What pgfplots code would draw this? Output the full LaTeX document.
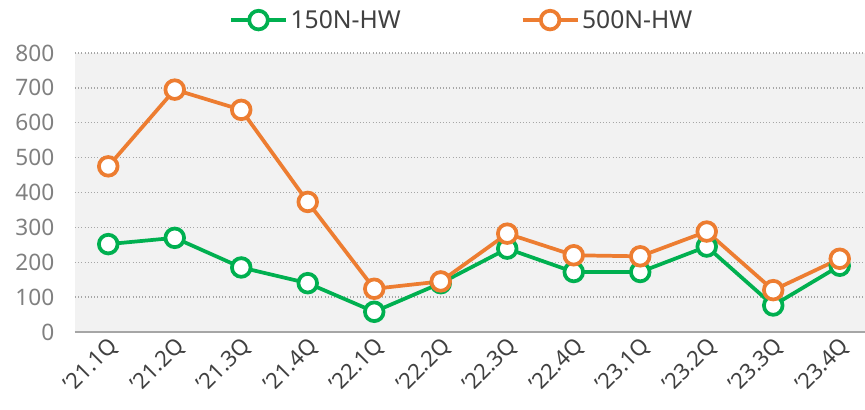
\documentclass[border=0pt]{standalone}
\usepackage{pgfplots}
\pgfplotsset{compat=1.18}
\usepackage{fontspec}
\setmainfont{Noto Sans}
\definecolor{cgreen}{HTML}{00B050}
\definecolor{corange}{HTML}{ED7D31}
\definecolor{bg}{HTML}{F2F2F2}
\definecolor{gridc}{HTML}{A6A6A6}
\definecolor{ytc}{HTML}{808080}
\definecolor{txt}{HTML}{404040}
\begin{document}
\begin{tikzpicture}
\begin{axis}[
  at={(0,0)}, anchor=south west,
  scale only axis, width=592.5pt, height=209.25pt,
  xmin=-0.5, xmax=11.38, ymin=0, ymax=800,
  xtick={0,...,11},
  xticklabels={'21.1Q,'21.2Q,'21.3Q,'21.4Q,'22.1Q,'22.2Q,'22.3Q,'22.4Q,'23.1Q,'23.2Q,'23.3Q,'23.4Q},
  ytick={0,100,...,800},
  axis background/.style={fill=bg},
  axis x line*=bottom, axis y line*=left,
  x axis line style={-, draw=gridc, line width=1.5pt},
  y axis line style={draw=none},
  major tick length=0pt,
  ymajorgrids, grid style={gridc, dotted, line width=1pt},
  /pgf/number format/assume math mode=true,
  yticklabel style={font=\fontsize{17}{20}\selectfont, text=ytc, xshift=-12pt},
  xticklabel style={font=\fontsize{16.5}{20}\selectfont, text=txt, rotate=45, anchor=east, yshift=-9pt, xshift=1pt},
  legend columns=2,
  legend style={at={(0.49,1.118)}, anchor=center, draw=none, fill=none,
    font=\fontsize{18.5}{22}\selectfont, text=txt,
    /tikz/every even column/.append style={column sep=88pt}},
  legend image code/.code={\draw[mark repeat=2,mark phase=2] plot coordinates {(0pt,0pt) (20.6pt,0pt) (41.2pt,0pt)};},
  every axis plot/.append style={line width=2.8pt, mark=*, mark size=7pt, mark options={fill=white}},
  clip=false,
]
\addplot[cgreen] coordinates {(0,252) (1,270) (2,185) (3,140) (4,58) (5,140) (6,239) (7,172) (8,172) (9,245) (10,76) (11,190)};
\addlegendentry{150N-HW}
\addplot[corange] coordinates {(0,475) (1,695) (2,637) (3,373) (4,124) (5,145) (6,282) (7,220) (8,217) (9,288) (10,120) (11,210)};
\addlegendentry{500N-HW}
\end{axis}
\pgfresetboundingbox
\path[use as bounding box] (-56.25pt,-58.5pt) rectangle (592.5pt,249pt);
\end{tikzpicture}
\end{document}
